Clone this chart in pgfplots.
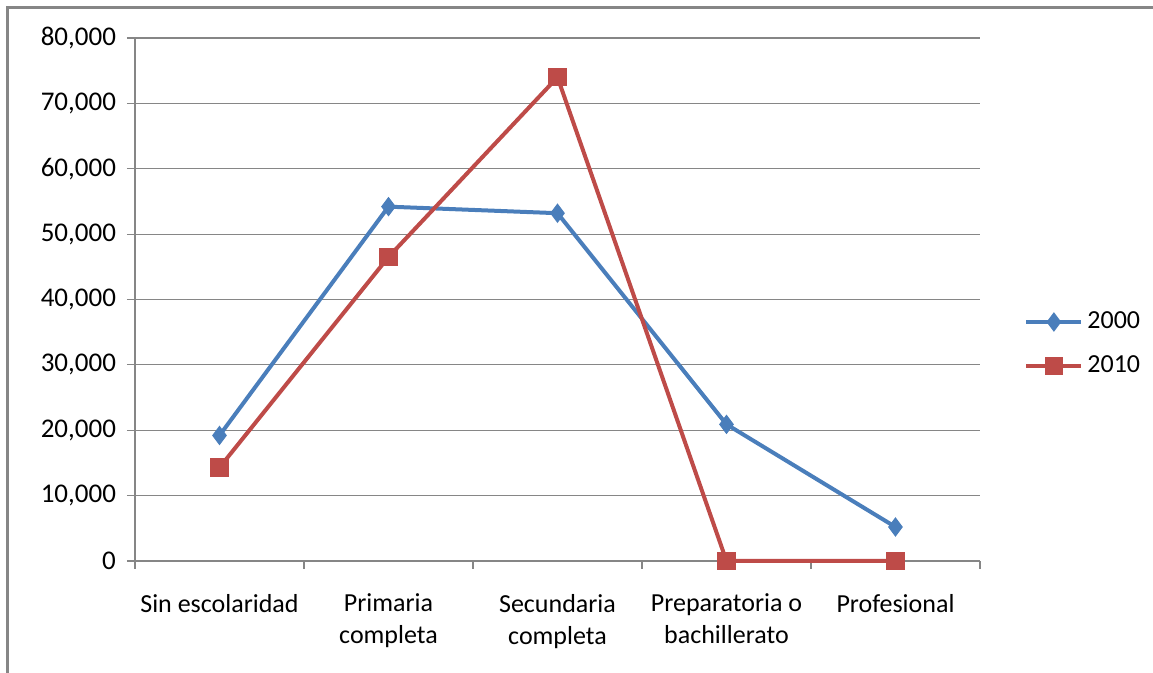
\documentclass[border=0pt]{standalone}
\usepackage{fontspec}
\setmainfont{Carlito}
\usepackage{pgfplots}
\pgfplotsset{compat=1.18}
\definecolor{s2000}{HTML}{4A7EBB}
\definecolor{s2010}{HTML}{BE4B48}
\definecolor{gridgray}{HTML}{868686}
\begin{document}
\begin{tikzpicture}[x=1pt,y=1pt]
\useasboundingbox (0,0) rectangle (576.5,336.5);
% outer frame (left and top edge only visible)
\draw[gridgray, line width=1.5pt] (3.5,-2) -- (3.5,332.5) -- (580,332.5);
\begin{axis}[
    at={(67.5pt,56pt)}, anchor=south west,
    scale only axis,
    width=422.5pt, height=261.5pt,
    xmin=-0.5, xmax=4.5,
    ymin=0, ymax=80000,
    axis lines=left,
    axis line style={gridgray, line width=0.6pt, -},
    xtick={0,1,2,3,4},
    xticklabels={Sin escolaridad, Primaria\\completa, Secundaria\\completa, Preparatoria o\\bachillerato, Profesional},
    major x tick style={draw=none},
    minor xtick={-0.5,0.5,1.5,2.5,3.5,4.5},
    minor x tick style={gridgray, line width=0.6pt},
    minor tick length=4pt,
    ytick={0,10000,...,80000},
    major tick length=4pt,
    tick align=outside,
    y tick style={gridgray, line width=0.6pt},
    ymajorgrids,
    grid style={gridgray, line width=0.6pt},
    scaled y ticks=false,
    yticklabel style={font=\fontsize{13.5}{15}\selectfont, xshift=-2pt,
        /pgf/number format/fixed, /pgf/number format/1000 sep={,},
        /pgf/number format/assume math mode=true},
    xticklabel style={font=\fontsize{13}{16}\selectfont, align=center, yshift=-9pt},
    legend style={at={(1.045,0.415)}, anchor=west, draw=none, fill=none,
        font=\fontsize{13}{15}\selectfont, row sep=8pt},
    legend cell align=left,
    legend image code/.code={
        \draw[#1, mark repeat=2, mark phase=2] plot coordinates {(0pt,0pt) (13.75pt,0pt) (27.5pt,0pt)};
    },
    clip=false,
]
\addplot[s2000, line width=2pt, mark=diamond*, mark size=4.5pt, mark options={solid, line width=0.5pt}]
    coordinates {(0,19200) (1,54200) (2,53200) (3,20900) (4,5200)};
\addplot[s2010, line width=2pt, mark=square*, mark size=4.3pt, mark options={solid, line width=0.5pt}]
    coordinates {(0,14300) (1,46500) (2,74000) (3,0) (4,0)};
\legend{2000, 2010}
\end{axis}
\end{tikzpicture}
\end{document}
